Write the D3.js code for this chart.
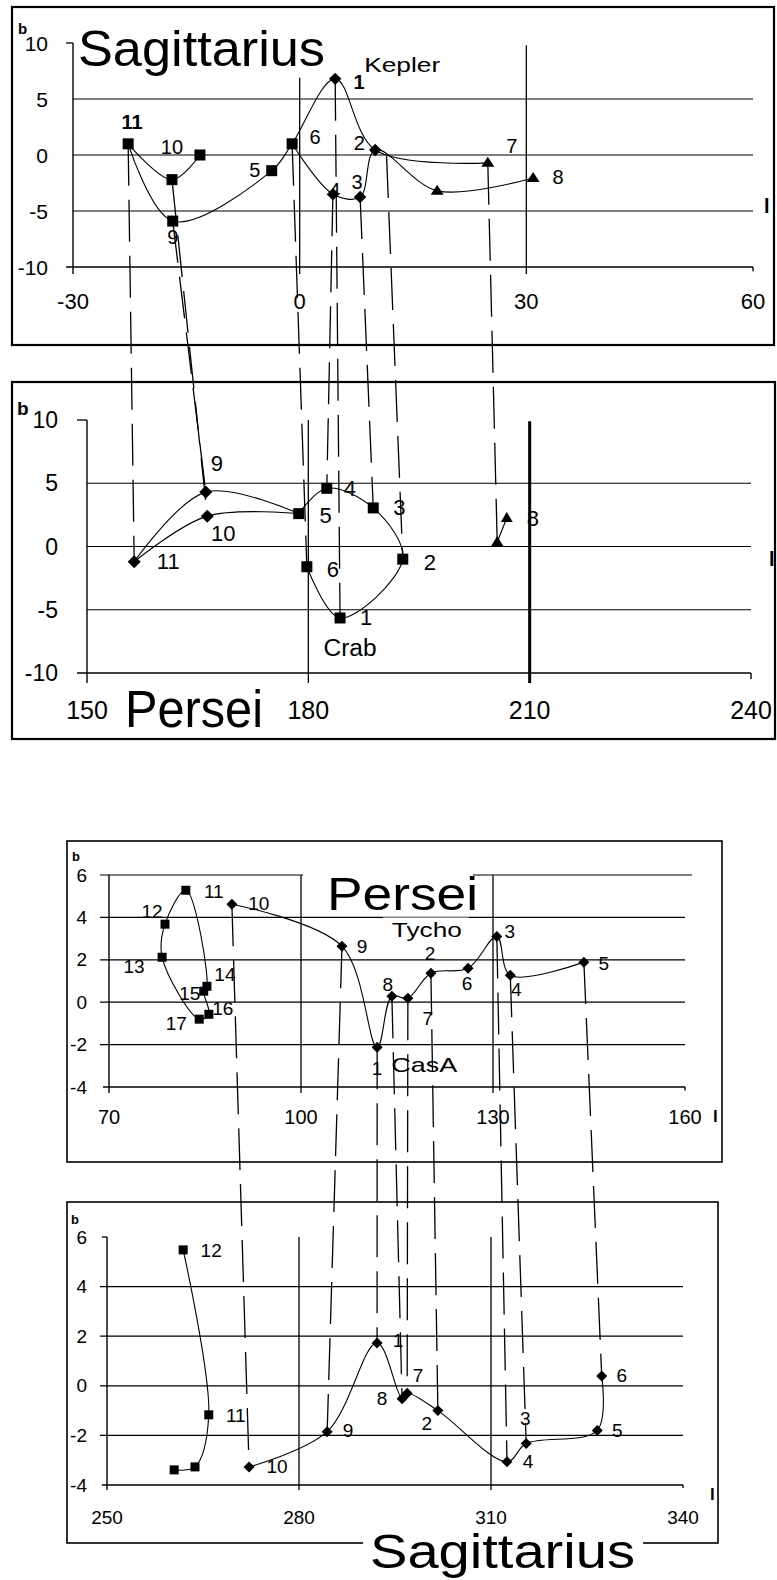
<!DOCTYPE html>
<html><head><meta charset="utf-8">
<script src="https://cdn.jsdelivr.net/npm/d3@7"></script>
<style>
body{margin:0;background:#fff}
svg{display:block}
text{font-family:"Liberation Sans",Arial,Helvetica,sans-serif;fill:#000}
</style>
</head><body>
<svg id="chart" width="777" height="1580"></svg>
<script>
// ================= DATA =================
// Upper "Sagittarius" chart (galactic l, b in degrees)
const sagTopL = [-30, 0, 30, 60];
const sagTopB = [-10, -5, 0, 5, 10];
const sagTopPoints = [
  ["11", -22.7, 1.0, "sq"], ["a", -16.9, -2.2, "sq"], ["10", -13.2, 0.0, "sq"],
  ["9", -16.8, -5.9, "sq"], ["5", -3.7, -1.4, "sq"], ["6", -1.0, 1.0, "sq"],
  ["1", 4.7, 6.8, "di"], ["2", 10.0, 0.45, "di"], ["4", 4.4, -3.5, "di"], ["3", 8.0, -3.75, "di"],
  ["7", 24.9, -0.7, "tr"], ["t", 18.2, -3.2, "tr"], ["8", 30.9, -2.05, "tr"],
  ["x", 11.5, -0.1, null]
];
const sagTopPaths = [["11","a","10"], ["11","9","5","6","1","2","7"], ["6","4","3","2","t","8"]];

// Upper "Persei" chart
const perMidL = [150, 180, 210, 240];
const perMidB = [-10, -5, 0, 5, 10];
const perMidPoints = [
  ["11", 156.4, -1.2, "di"], ["9", 166.1, 4.3, "di"], ["10", 166.3, 2.4, "di"],
  ["5", 178.7, 2.6, "sq"], ["6", 179.8, -1.6, "sq"], ["4", 182.5, 4.6, "sq"],
  ["1", 184.3, -5.65, "sq"], ["3", 188.8, 3.05, "sq"], ["2", 192.8, -1.0, "sq"],
  ["t", 205.6, 0.35, "tr"], ["8", 206.9, 2.25, "tr"]
];
const perMidPaths = [["11","9","5"], ["11","10","5"], ["5","4","3","2","1","6"], ["t","8"]];

// links between the two upper charts: [point in Sagittarius chart, point in Persei chart]
const linksUpper = [["11","11"], ["a","10"], ["9","9"], ["6","6"], ["1","1"], ["4","4"], ["3","3"], ["x","2"], ["7","t"]];

// Lower "Persei" chart
const perLowL = [70, 100, 130, 160];
const perLowB = [-4, -2, 0, 2, 4, 6];
const perLowPoints = [
  ["11", 82.0, 5.28, "sq"], ["12", 78.75, 3.68, "sq"], ["13", 78.3, 2.12, "sq"],
  ["14", 85.3, 0.75, "sq"], ["15", 84.8, 0.52, "sq"], ["16", 85.6, -0.57, "sq"], ["17", 84.1, -0.8, "sq"],
  ["10", 89.2, 4.62, "di"], ["9", 106.4, 2.64, "di"], ["1", 111.9, -2.12, "di"],
  ["8", 114.2, 0.28, "di"], ["7", 116.7, 0.19, "di"], ["2", 120.3, 1.37, "di"],
  ["6", 126.1, 1.6, "di"], ["3", 130.6, 3.1, "di"], ["4", 132.7, 1.27, "di"], ["5", 144.2, 1.89, "di"]
];
const perLowLoop = ["11","12","13","17","16","15","14"];
const perLowPaths = [["10","9","1","8","7","2","6","3","4","5"]];

// Lower "Sagittarius" chart
const sagLowL = [250, 280, 310, 340];
const sagLowB = [-4, -2, 0, 2, 4, 6];
const sagLowPoints = [
  ["12", 261.9, 5.48, "sq"], ["11", 265.9, -1.17, "sq"], ["a", 263.75, -3.27, "sq"], ["b", 260.5, -3.39, "sq"],
  ["10", 272.2, -3.27, "di"], ["9", 284.4, -1.85, "di"], ["1", 292.2, 1.73, "di"],
  ["8", 296.1, -0.52, "di"], ["7", 296.9, -0.3, "di"], ["2", 301.7, -1.0, "di"],
  ["4", 312.5, -3.06, "di"], ["3", 315.5, -2.33, "di"], ["5", 326.6, -1.8, "di"], ["6", 327.3, 0.4, "di"]
];
const sagLowPaths = [["12","11","a","b"], ["10","9","1","8","7","2","4","3","5","6"]];

// links between the two lower charts: [point in Persei chart, point in Sagittarius chart]
const linksLower = [["10","10"], ["9","9"], ["1","1"], ["8","8"], ["7","7"], ["2","2"], ["3","4"], ["4","3"], ["5","6"]];

// ================= LAYOUT =================
const panels = {
  sagTop: {
    L: sagTopL, B: sagTopB, pts: sagTopPoints, paths: sagTopPaths,
    xr: [73, 753], yr: [267, 43], frame: [12, 7, 774, 345], frameW: 2.2,
    grid: [-5, 0, 5], gridLeft: 0, tick: 7,
    vlines: [{l: 0, from: 6.9, w: 1.3}, {l: 30, from: 9.8, w: 1.3}],
    yLabX: 48, yLabSize: 21, xLabY: 301, xLabSize: 22,
    bLab: [18, 34, 15], lLab: [764, 213, 20],
    title: {t: "Sagittarius", x: 78, y: 66, size: 50, len: 247},
    lblSize: 20, sq: 11, di: 6.2, tr: [13, 10],
    labels: {"11": [4, -22, 1], "10": [-28, -8], "9": [0, 16], "5": [-17, -1], "6": [23, -7],
             "1": [24, 3, 1], "2": [-16, -7], "4": [2, -4], "3": [-3, -15], "7": [24, -17], "8": [25, -1]},
    extra: [{t: "Kepler", ref: "1", dx: 29, dy: -14, anchor: "start", size: 21, len: 76}]
  },
  perMid: {
    L: perMidL, B: perMidB, pts: perMidPoints, paths: perMidPaths,
    xr: [87, 751], yr: [673, 420], frame: [12, 382, 775, 739], frameW: 2.2,
    grid: [-5, 0, 5], gridLeft: 0, tick: 10,
    vlines: [{l: 180, from: 10, w: 1.3}, {l: 210, from: 9.9, w: 3}],
    yLabX: 58, yLabSize: 23, xLabY: 710, xLabSize: 25,
    bLab: [17, 415, 19], lLab: [769, 566, 20],
    title: {t: "Persei", x: 125, y: 727, size: 51, len: 138},
    lblSize: 22, sq: 11, di: 6.5, tr: [12, 10],
    labels: {"9": [11, -29], "10": [16, 17], "11": [34, 0], "5": [27, 2], "4": [23, 0], "3": [26, 0],
             "2": [27, 3], "6": [26, 3], "1": [26, 0], "8": [26, 0]},
    extra: [{t: "Crab", ref: "1", dx: 10, dy: 30, anchor: "middle", size: 23, len: 53}]
  },
  perLow: {
    L: perLowL, B: perLowB, pts: perLowPoints, paths: perLowPaths, loop: perLowLoop,
    xr: [109, 685], yr: [1087, 875], frame: [67, 841, 722, 1162], frameW: 1.6,
    grid: [-2, 0, 2, 4, 6], gridLeft: 9, gridExt: {6: 7}, tick: 6,
    vlines: [{l: 100, from: 6, w: 1.3}, {l: 130, from: 6, w: 1.3}],
    yLabX: 87, yLabSize: 19, xLabY: 1117, xLabSize: 20,
    bLab: [72, 861, 13], lLab: [713, 1122, 17],
    title: {t: "Persei", x: 327, y: 910, size: 46, len: 151, box: [303, 867, 170, 48]},
    lblSize: 19, sq: 9, di: 5.5, tr: [10, 8],
    labels: {"11": [28, 1], "12": [-13, -13], "13": [-28, 9], "14": [18, -12], "15": [-14, 2], "16": [14, -6],
             "17": [-23, 4], "10": [27, -1], "9": [20, 0], "1": [0, 21], "8": [-4, -12], "7": [20, 20],
             "2": [-1, -20], "6": [-1, 15], "3": [13, -5], "4": [6, 14], "5": [20, 1]},
    extra: [{t: "Tycho", ref: "3", dx: -70, dy: -7, anchor: "middle", size: 21, len: 70, box: [-44, -12, 86, 24]},
            {t: "CasA", ref: "1", dx: 47, dy: 17, anchor: "middle", size: 21, len: 66}]
  },
  sagLow: {
    L: sagLowL, B: sagLowB, pts: sagLowPoints, paths: sagLowPaths,
    xr: [107, 683], yr: [1485, 1237], frame: [67, 1202, 718, 1543], frameW: 1.6,
    grid: [-2, 0, 2, 4], gridLeft: 7, tick: 5,
    vlines: [{l: 280, from: 6, w: 1.3}, {l: 310, from: 6, w: 1.3}],
    yLabX: 87, yLabSize: 19, xLabY: 1517, xLabSize: 19,
    bLab: [71, 1224, 13], lLab: [710, 1500, 17],
    title: {t: "Sagittarius", x: 370, y: 1568, size: 48, len: 265, box: [363, 1532, 280, 46]},
    lblSize: 19, sq: 9, di: 5.5, tr: [10, 8],
    labels: {"12": [28, 1], "11": [27, 1], "10": [28, 0], "9": [21, -1], "1": [21, -2], "8": [-20, 0],
             "7": [11, -18], "2": [-11, 13], "4": [21, 0], "3": [-1, -25], "5": [20, 0], "6": [20, 0]},
    extra: []
  }
};

// ================= DRAW =================
const svg = d3.select("#chart");
const gFrames = svg.append("g");
const gPanels = svg.append("g");
const gLinks = svg.append("g");
const gTop = svg.append("g");

function line(g, x1, y1, x2, y2, w) {
  return g.append("line").attr("x1", x1).attr("y1", y1).attr("x2", x2).attr("y2", y2)
    .attr("stroke", "#000").attr("stroke-width", w || 1.2);
}

function marker(g, m, cx, cy, o) {
  if (!m) return;
  if (m === "sq") {
    g.append("rect").attr("x", cx - o.sq / 2).attr("y", cy - o.sq / 2)
      .attr("width", o.sq).attr("height", o.sq).attr("fill", "#000");
  } else if (m === "di") {
    const r = o.di;
    g.append("path").attr("d", `M${cx},${cy - r}L${cx + r},${cy}L${cx},${cy + r}L${cx - r},${cy}Z`).attr("fill", "#000");
  } else if (m === "tr") {
    const w = o.tr[0], h = o.tr[1];
    g.append("path").attr("d", `M${cx},${cy - h * 0.6}L${cx + w / 2},${cy + h * 0.4}L${cx - w / 2},${cy + h * 0.4}Z`).attr("fill", "#000");
  }
}

function drawPanel(o) {
  const x = d3.scaleLinear().domain(d3.extent(o.L)).range(o.xr);
  const y = d3.scaleLinear().domain(d3.extent(o.B)).range(o.yr);
  o.pos = {};
  o.pts.forEach(p => { o.pos[p[0]] = [x(p[1]), y(p[2])]; });

  const f = o.frame;
  gFrames.append("rect").attr("x", f[0]).attr("y", f[1]).attr("width", f[2] - f[0]).attr("height", f[3] - f[1])
    .attr("fill", "#fff").attr("stroke", "#000").attr("stroke-width", o.frameW);

  const g = gPanels.append("g");
  const [lMin, lMax] = x.domain(), [bMin, bMax] = y.domain();
  const x0 = x(lMin), x1 = x(lMax), yb = y(bMin), yt = y(bMax);

  // horizontal grid / axis
  o.B.forEach(b => {
    if (b === bMin) line(g, x0 - o.tick, y(b), x1, y(b), 1.4);
    else if (o.grid.includes(b)) line(g, x0 - o.gridLeft, y(b), x1 + ((o.gridExt && o.gridExt[b]) || 0), y(b), 1.2);
    else line(g, x0 - o.tick, y(b), x0, y(b), 1.3);
  });
  line(g, x0, yt, x0, yb + o.tick, 1.4);
  line(g, x1, yb, x1, yb + o.tick * 0.6, 1.4);
  o.vlines.forEach(v => line(g, x(v.l), y(v.from), x(v.l), yb + o.tick, v.w));

  // tick labels
  o.B.forEach(b => g.append("text").attr("x", o.yLabX).attr("y", y(b)).attr("text-anchor", "end")
    .attr("dominant-baseline", "central").attr("font-size", o.yLabSize).text(b));
  o.L.forEach(l => g.append("text").attr("x", x(l)).attr("y", o.xLabY).attr("text-anchor", "middle")
    .attr("dominant-baseline", "central").attr("font-size", o.xLabSize).text(l));
  g.append("text").attr("x", o.bLab[0]).attr("y", o.bLab[1]).attr("font-size", o.bLab[2]).attr("font-weight", "bold").text("b");
  g.append("text").attr("x", o.lLab[0]).attr("y", o.lLab[1]).attr("font-size", o.lLab[2]).attr("font-weight", "bold").text("l");

  // title
  const t = o.title;
  if (t.box) g.append("rect").attr("x", t.box[0]).attr("y", t.box[1]).attr("width", t.box[2]).attr("height", t.box[3]).attr("fill", "#fff");
  g.append("text").attr("x", t.x).attr("y", t.y).attr("font-size", t.size)
    .attr("textLength", t.len).attr("lengthAdjust", "spacingAndGlyphs").text(t.t);

  // smoothed curves, markers and labels (drawn above the dashed links)
  const top = gTop.append("g");
  const gen = d3.line().x(id => o.pos[id][0]).y(id => o.pos[id][1]).curve(d3.curveCatmullRom.alpha(0.5));
  o.paths.forEach(pth => top.append("path").attr("d", gen(pth)).attr("fill", "none").attr("stroke", "#000").attr("stroke-width", 1.1));
  if (o.loop) {
    const genC = d3.line().x(id => o.pos[id][0]).y(id => o.pos[id][1]).curve(d3.curveCatmullRomClosed.alpha(0.5));
    top.append("path").attr("d", genC(o.loop)).attr("fill", "none").attr("stroke", "#000").attr("stroke-width", 1.1);
  }
  o.pts.forEach(p => marker(top, p[3], o.pos[p[0]][0], o.pos[p[0]][1], o));
  Object.entries(o.labels).forEach(([id, off]) => {
    const p = o.pos[id];
    top.append("text").attr("x", p[0] + off[0]).attr("y", p[1] + off[1]).attr("text-anchor", "middle")
      .attr("dominant-baseline", "central").attr("font-size", o.lblSize)
      .attr("font-weight", off[2] ? "bold" : "normal").text(id);
  });
  o.extra.forEach(e => {
    const p = o.pos[e.ref];
    const tx = p[0] + e.dx, ty = p[1] + e.dy;
    if (e.box) top.append("rect").attr("x", tx + e.box[0]).attr("y", ty + e.box[1]).attr("width", e.box[2]).attr("height", e.box[3]).attr("fill", "#fff");
    const te = top.append("text").attr("x", tx).attr("y", ty).attr("text-anchor", e.anchor)
      .attr("dominant-baseline", "central").attr("font-size", e.size).text(e.t);
    if (e.len) te.attr("textLength", e.len).attr("lengthAdjust", "spacingAndGlyphs");
  });
}

Object.values(panels).forEach(drawPanel);

function drawLinks(links, A, B) {
  links.forEach(([a, b]) => {
    const p = A.pos[a], q = B.pos[b];
    gLinks.append("line").attr("x1", p[0]).attr("y1", p[1]).attr("x2", q[0]).attr("y2", q[1])
      .attr("stroke", "#000").attr("stroke-width", 1.3).attr("stroke-dasharray", "42,14");
  });
}
drawLinks(linksUpper, panels.sagTop, panels.perMid);
drawLinks(linksLower, panels.perLow, panels.sagLow);
</script>
</body></html>
